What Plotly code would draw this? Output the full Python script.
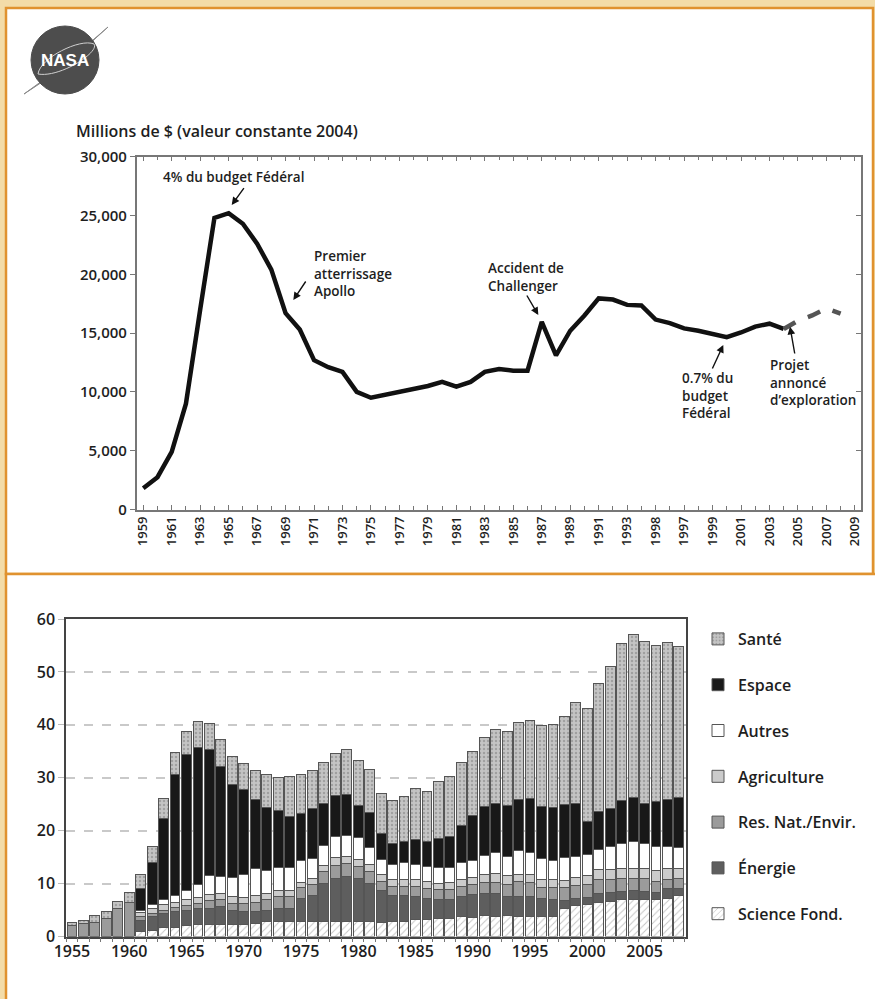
import plotly.graph_objects as go

W, H = 875, 999

# ---------------- Top chart data (NASA budget, millions $ constant 2004) ----------------
line_years = list(range(1959, 2005))
line_values = [1800, 2750, 4900, 9000, 17000, 24800, 25200, 24300, 22600, 20400,
               16700, 15300, 12700, 12100, 11700, 10000, 9500, 9750, 9950, 10200,
               10500, 10850, 10450, 10850, 11700, 11950, 11800, 11800, 15950, 13100,
               15200, 16500, 17950, 17850, 17400, 17350, 16150, 15850, 15400, 15200,
               14950, 14650, 15050, 15550, 15800, 15350]
proj_years = [2004, 2005, 2006, 2007, 2008]
proj_values = [15350, 16050, 16500, 17100, 16650]

top_tick_years = list(range(1959, 2010, 2))
top_tick_labels = ["1959", "1961", "1963", "1965", "1967", "1969", "1971", "1973",
                   "1975", "1977", "1979", "1981", "1983", "1985", "1987", "1989",
                   "1991", "1993", "1998", "1997", "1999", "2001", "2003", "2005",
                   "2007", "2009"]
top_y_ticks = [0, 5000, 10000, 15000, 20000, 25000, 30000]

# ---------------- Bottom chart data (stacked bars) ----------------
bar_years = list(range(1955, 2009))
science_fond = [0, 0, 0, 0, 0, 0,
                0.9, 1.2, 1.7, 1.7, 2.1, 2.3, 2.2, 2.3, 2.2, 2.2, 2.5, 2.8, 2.8, 2.8,
                2.8, 2.8, 2.8, 2.9, 2.9, 2.8, 2.8, 2.7, 2.8, 2.9, 3.3, 3.3, 3.4, 3.4,
                3.8, 3.6, 3.9, 3.8, 3.9, 3.8, 3.8, 3.8, 3.8, 5.3, 5.8, 6.0, 6.4, 6.6,
                6.9, 6.9, 6.9, 6.9, 7.1, 7.7]
energie = [0, 0, 0, 0, 0, 0,
           2.2, 2.6, 2.7, 3.0, 2.9, 2.9, 3.1, 3.3, 2.8, 2.5, 2.2, 2.2, 2.4, 2.5,
           4.4, 4.9, 7.3, 8.1, 8.4, 8.2, 7.3, 5.9, 4.9, 4.8, 4.2, 3.9, 3.6, 3.6,
           3.7, 4.4, 4.3, 4.4, 3.6, 3.7, 3.7, 3.4, 3.1, 1.5, 1.4, 1.4, 1.8, 1.7,
           1.6, 1.8, 1.6, 1.4, 2.0, 1.4]
res_nat = [2.1, 2.4, 2.6, 3.4, 5.2, 6.4,
           0.7, 0.6, 0.6, 0.8, 0.9, 1.0, 1.5, 1.4, 1.3, 1.5, 1.8, 2.0, 2.3, 2.2,
           2.0, 2.1, 2.1, 2.5, 2.5, 2.2, 2.2, 1.8, 1.8, 1.8, 1.9, 1.8, 1.8, 1.9,
           1.9, 1.8, 2.0, 2.0, 2.4, 2.9, 2.7, 2.1, 2.4, 2.5, 2.4, 2.5, 2.5, 2.5,
           2.5, 2.3, 2.5, 2.1, 1.7, 1.9]
agriculture = [0, 0, 0, 0, 0, 0,
               0.7, 0.9, 1.0, 1.0, 1.1, 1.1, 1.2, 1.2, 1.3, 1.2, 1.2, 1.2, 1.1, 1.1,
               1.1, 1.2, 1.3, 1.5, 1.4, 1.4, 1.4, 1.4, 1.3, 1.3, 1.3, 1.4, 1.3, 1.3,
               1.4, 1.4, 1.6, 1.8, 1.6, 1.4, 1.6, 1.5, 1.5, 1.3, 1.6, 1.6, 1.9, 1.9,
               1.9, 1.9, 1.9, 2.0, 2.0, 1.9]
autres = [0, 0, 0, 0, 0, 0,
          0.5, 0.7, 1.0, 1.2, 1.6, 2.6, 3.5, 3.1, 3.5, 4.4, 5.2, 4.3, 4.4, 4.4,
          4.0, 3.8, 3.7, 3.9, 3.8, 4.1, 3.2, 2.8, 2.9, 3.1, 3.0, 2.8, 2.9, 2.9,
          3.2, 3.2, 3.6, 3.9, 3.7, 4.4, 4.1, 4.0, 3.6, 4.3, 4.0, 4.0, 3.9, 4.3,
          4.6, 5.1, 4.6, 4.7, 4.2, 4.0]
espace = [0, 0, 0, 0, 0, 0,
          4.1, 7.9, 15.3, 22.9, 25.8, 25.9, 23.8, 20.9, 17.7, 15.9, 13.0, 11.8, 10.9, 9.6,
          9.0, 9.3, 7.9, 7.8, 7.8, 6.1, 6.5, 4.8, 3.8, 4.1, 4.7, 4.8, 5.5, 5.8,
          6.9, 8.4, 9.1, 9.2, 9.6, 9.7, 10.1, 9.8, 9.9, 10.0, 10.0, 6.2, 7.1, 7.1,
          8.2, 8.2, 7.6, 8.5, 8.9, 9.3]
sante = [0.6, 0.7, 1.4, 1.4, 1.5, 2.0,
         2.6, 3.2, 3.7, 4.2, 4.3, 4.8, 4.9, 5.1, 5.3, 4.9, 5.5, 6.4, 6.1, 7.6,
         7.3, 7.3, 7.7, 7.9, 8.5, 8.5, 8.1, 7.7, 8.2, 8.5, 9.5, 9.4, 10.8, 11.4,
         11.9, 12.2, 13.2, 14.0, 13.9, 14.5, 14.9, 15.2, 15.7, 16.7, 19.1, 21.3, 24.2, 26.9,
         29.6, 30.8, 30.7, 29.4, 29.6, 28.6]

bottom_tick_years = [1955, 1960, 1965, 1970, 1975, 1980, 1985, 1990, 1995, 2000, 2005]
bottom_tick_labels = ["1955", "1960", "1965", "1970", "1975", "1980", "1985",
                      "1990", "1995", "2000", "2005"]

# ---------------- helpers ----------------
def X(px):
    return px / W

def Y(py):
    return 1 - py / H

FONT = "Open Sans"
TXT = "#1e1e1e"

fig = go.Figure()

# line chart
fig.add_trace(go.Scatter(x=line_years, y=line_values, mode="lines",
                         line=dict(color="#111111", width=4.5), showlegend=False,
                         xaxis="x", yaxis="y", hoverinfo="skip"))
fig.add_trace(go.Scatter(x=proj_years, y=proj_values, mode="lines",
                         line=dict(color="#555555", width=4.5, dash="dash"), showlegend=False,
                         xaxis="x", yaxis="y", hoverinfo="skip"))
# invisible trace to show inner ticks on the right side
fig.add_trace(go.Scatter(x=[line_years[0]], y=[line_values[0]], mode="markers",
                         marker=dict(opacity=0), showlegend=False,
                         xaxis="x", yaxis="y3", hoverinfo="skip"))

# stacked bars (bottom to top)
series = [
    ("Science Fond.", science_fond, dict(color="white", pattern=dict(shape="/", fgcolor="#8a8a8a", bgcolor="white", size=5, solidity=0.2)), 7),
    ("Énergie", energie, dict(color="#5e5e5e"), 6),
    ("Res. Nat./Envir.", res_nat, dict(color="#9b9b9b"), 5),
    ("Agriculture", agriculture, dict(color="#cbcbcb"), 4),
    ("Autres", autres, dict(color="#ffffff"), 3),
    ("Espace", espace, dict(color="#181818"), 2),
    ("Santé", sante, dict(color="#bfbfbf", pattern=dict(shape=".", fgcolor="#7c7c7c", bgcolor="#c4c4c4", size=4, solidity=0.3)), 1),
]
for name, vals, mk, rank in series:
    mk = dict(mk)
    mk["line"] = dict(color="#555555", width=1)
    fig.add_trace(go.Bar(x=bar_years, y=vals, name=name, marker=mk,
                         xaxis="x2", yaxis="y2", legendgroup=name, legendrank=rank,
                         hoverinfo="skip"))

fig.update_layout(
    width=W, height=H,
    margin=dict(l=0, r=0, t=0, b=0, pad=0, autoexpand=False),
    paper_bgcolor="#f3dca8",
    plot_bgcolor="white",
    font=dict(family=FONT, size=13, color=TXT, weight=600),
    barmode="stack",
    bargap=0.14,
    showlegend=True,
    legend=dict(x=X(698), y=Y(622), xanchor="left", yanchor="top",
                font=dict(size=16, family=FONT, color=TXT, weight=600),
                bgcolor="rgba(0,0,0,0)", tracegroupgap=22, itemwidth=30),
    xaxis=dict(domain=[X(136.7), X(860.7)], range=[1958.54, 2009.41],
               tickmode="array", tickvals=top_tick_years, ticktext=top_tick_labels,
               tickangle=-90, ticks="inside", ticklen=5, tickcolor="#777",
               minor=dict(ticks="inside", ticklen=4, dtick=1, tick0=1959, tickcolor="#777"),
               showline=True, linecolor="#777", linewidth=1.5, mirror="ticks",
               showgrid=False, zeroline=False, tickfont=dict(size=13),
               anchor="y", automargin=False),
    yaxis=dict(domain=[Y(509.5), Y(156.7)], range=[0, 30000],
               tickmode="array", tickvals=top_y_ticks,
               tickformat=",", ticks="outside", ticklen=5, tickcolor="#777",
               showline=True, linecolor="#777", linewidth=1.5, mirror=True,
               showgrid=False, zeroline=False, tickfont=dict(size=15),
               anchor="x", automargin=False),
    yaxis3=dict(overlaying="y", side="right", range=[0, 30000], anchor="x",
                tickmode="array", tickvals=top_y_ticks, ticks="inside", ticklen=5,
                tickcolor="#777", showticklabels=False, showline=False,
                showgrid=False, zeroline=False, automargin=False),
    xaxis2=dict(domain=[X(66), X(686)], range=[1954.48, 2008.62],
                tickmode="array", tickvals=bottom_tick_years, ticktext=bottom_tick_labels,
                ticks="", minor=dict(ticks="outside", ticklen=4, dtick=1, tick0=1954.5, tickcolor="#777"),
                showline=True, linecolor="#444", linewidth=1.5, mirror=True,
                showgrid=False, zeroline=False, tickfont=dict(size=16),
                anchor="y2", automargin=False),
    yaxis2=dict(domain=[Y(936.5), Y(619)], range=[0, 60], dtick=10,
                ticks="outside", ticklen=6, tickcolor="#bbb",
                showline=True, linecolor="#444", linewidth=1.5, mirror=True,
                showgrid=True, gridcolor="#c9c9c9", gridwidth=1.5, griddash="dash",
                zeroline=False, tickfont=dict(size=16),
                anchor="x2", automargin=False),
)

shapes = []
# panels
shapes.append(dict(type="rect", xref="paper", yref="paper", x0=X(6), x1=X(873), y0=Y(574), y1=Y(8),
                   fillcolor="white", line=dict(color="#e0922f", width=2.5), layer="below"))
shapes.append(dict(type="rect", xref="paper", yref="paper", x0=X(6), x1=X(890), y0=Y(1010), y1=Y(574),
                   fillcolor="white", line=dict(color="#e0922f", width=2.5), layer="below"))
# NASA logo
shapes.append(dict(type="path", xref="paper", yref="paper",
                   path=f"M {X(24)},{Y(94)} Q {X(60)},{Y(72)} {X(108)},{Y(27)} Q {X(64)},{Y(66)} {X(24)},{Y(94)} Z",
                   fillcolor="#8a8a8a", line=dict(color="#8a8a8a", width=1), layer="below"))
shapes.append(dict(type="circle", xref="paper", yref="paper", x0=X(31), x1=X(99), y0=Y(94), y1=Y(26),
                   fillcolor="#4d4d4d", line=dict(color="#4d4d4d", width=1), layer="below"))
shapes.append(dict(type="path", xref="paper", yref="paper",
                   path=(f"M {X(38)},{Y(74)} C {X(40)},{Y(58)} {X(80)},{Y(38)} {X(94)},{Y(44)} "
                         f"C {X(100)},{Y(52)} {X(60)},{Y(78)} {X(38)},{Y(74)} Z"),
                   fillcolor="rgba(0,0,0,0)", line=dict(color="#d0d0d0", width=1), layer="below"))

annotations = []
annotations.append(dict(xref="paper", yref="paper", x=X(65), y=Y(61), xanchor="center", yanchor="middle",
                        text="<b>NASA</b>", showarrow=False,
                        font=dict(family="Liberation Sans", size=17, color="white", weight=700)))
annotations.append(dict(xref="paper", yref="paper", x=X(74), y=Y(131), xanchor="left", yanchor="middle",
                        text="Millions de $ (valeur constante 2004)", showarrow=False,
                        font=dict(size=16)))

text_notes = [
    (161, 166, "4% du budget Fédéral"),
    (312, 245, "Premier<br>atterrissage<br>Apollo"),
    (486, 257, "Accident de<br>Challenger"),
    (680, 367, "0.7% du<br>budget<br>Fédéral"),
    (768, 354, "Projet<br>annoncé<br>d’exploration"),
]
for px, py, t in text_notes:
    annotations.append(dict(xref="paper", yref="paper", x=X(px), y=Y(py), xanchor="left", yanchor="top",
                            align="left", text=t, showarrow=False, font=dict(size=13.5)))

arrows = [
    (231.7, 205, 13.3, -18.3),
    (293.3, 300, 13.4, -20),
    (538.3, 315, -12.3, -21),
    (723.3, 345, -11.6, 25),
    (790, 326.7, 5, 28.3),
]
for hx, hy, ax, ay in arrows:
    annotations.append(dict(xref="paper", yref="paper", x=X(hx), y=Y(hy), ax=ax, ay=ay,
                            axref="pixel", ayref="pixel", text="", showarrow=True,
                            arrowhead=2, arrowsize=1.1, arrowwidth=1.4, arrowcolor="#111"))

fig.update_layout(shapes=shapes, annotations=annotations)
fig.write_html("out.html", config={"displayModeBar": False},
               post_script="document.body.style.margin='0';document.body.style.padding='0';document.body.style.overflow='hidden';")
